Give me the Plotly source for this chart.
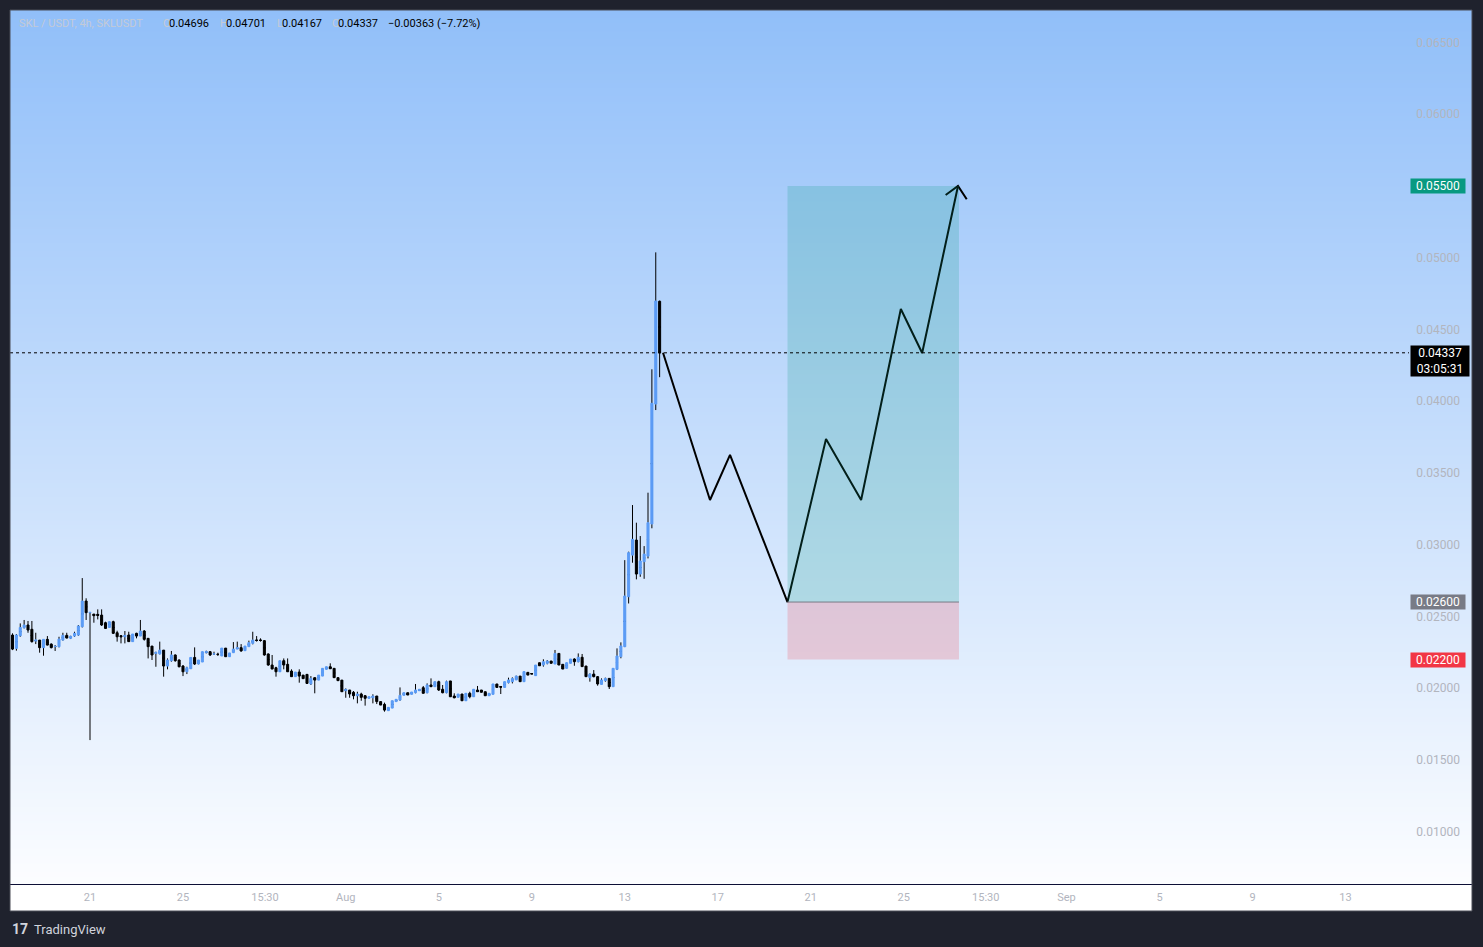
import pandas as pd
import plotly.graph_objects as go

# SKL / USDT 4h candles, first bar 2024-07-17 16:00
candle_start = "2024-07-17 16:00"

opens = [
    0.02370, 0.02277, 0.02365, 0.02421, 0.02440, 0.02410, 0.02328, 0.02335, 0.02282, 0.02340, 0.02307, 0.02289,
    0.02289, 0.02335, 0.02368, 0.02347, 0.02363, 0.02370, 0.02428, 0.02607, 0.02526, 0.02516, 0.02514, 0.02509,
    0.02456, 0.02423, 0.02463, 0.02386, 0.02365, 0.02358, 0.02370, 0.02324, 0.02382, 0.02363, 0.02398, 0.02347,
    0.02293, 0.02242, 0.02238, 0.02265, 0.02154, 0.02191, 0.02231, 0.02196, 0.02154, 0.02114, 0.02135, 0.02214,
    0.02168, 0.02182, 0.02247, 0.02254, 0.02238, 0.02235, 0.02224, 0.02279, 0.02219, 0.02247, 0.02272, 0.02282,
    0.02261, 0.02289, 0.02312, 0.02333, 0.02333, 0.02331, 0.02238, 0.02161, 0.02142, 0.02114, 0.02191, 0.02166,
    0.02119, 0.02080, 0.02112, 0.02091, 0.02096, 0.02029, 0.02073, 0.02056, 0.02084, 0.02131, 0.02149, 0.02138,
    0.02073, 0.02056, 0.01982, 0.01987, 0.01971, 0.01947, 0.01959, 0.01947, 0.01929, 0.01933, 0.01945, 0.01906,
    0.01887, 0.01843, 0.01861, 0.01906, 0.01917, 0.01950, 0.01968, 0.01957, 0.01968, 0.01982, 0.02003, 0.01968,
    0.02022, 0.02010, 0.02045, 0.01992, 0.01968, 0.02050, 0.01945, 0.01936, 0.01959, 0.01912, 0.01964, 0.01940,
    0.01987, 0.01987, 0.01975, 0.01947, 0.01957, 0.02029, 0.02010, 0.02005, 0.02038, 0.02045, 0.02057, 0.02084,
    0.02045, 0.02110, 0.02101, 0.02087, 0.02177, 0.02161, 0.02173, 0.02189, 0.02168, 0.02242, 0.02166, 0.02138,
    0.02173, 0.02203, 0.02184, 0.02215, 0.02154, 0.02073, 0.02098, 0.02080, 0.02026, 0.02052, 0.02068, 0.02010,
    0.02131, 0.02219, 0.02289, 0.02637, 0.02927, 0.03032, 0.02795, 0.02881, 0.02920, 0.03144, 0.03980, 0.04696,
]
highs = [
    0.02382, 0.02377, 0.02451, 0.02475, 0.02468, 0.02468, 0.02386, 0.02335, 0.02340, 0.02363, 0.02312, 0.02300,
    0.02358, 0.02386, 0.02386, 0.02365, 0.02393, 0.02440, 0.02767, 0.02626, 0.02528, 0.02516, 0.02549, 0.02549,
    0.02463, 0.02463, 0.02470, 0.02400, 0.02365, 0.02398, 0.02393, 0.02377, 0.02386, 0.02475, 0.02405, 0.02347,
    0.02293, 0.02254, 0.02324, 0.02265, 0.02207, 0.02259, 0.02235, 0.02200, 0.02161, 0.02149, 0.02214, 0.02284,
    0.02196, 0.02254, 0.02261, 0.02259, 0.02254, 0.02247, 0.02279, 0.02279, 0.02245, 0.02321, 0.02324, 0.02307,
    0.02293, 0.02331, 0.02393, 0.02363, 0.02347, 0.02335, 0.02242, 0.02231, 0.02149, 0.02191, 0.02207, 0.02207,
    0.02131, 0.02112, 0.02131, 0.02091, 0.02098, 0.02084, 0.02073, 0.02091, 0.02138, 0.02149, 0.02173, 0.02138,
    0.02073, 0.02056, 0.01998, 0.01987, 0.01980, 0.01975, 0.01968, 0.01952, 0.01940, 0.01957, 0.01945, 0.01906,
    0.01899, 0.01866, 0.01912, 0.01922, 0.02005, 0.01968, 0.01968, 0.01973, 0.02029, 0.01992, 0.02015, 0.02033,
    0.02068, 0.02045, 0.02052, 0.02022, 0.02052, 0.02050, 0.01964, 0.01959, 0.01959, 0.01964, 0.01975, 0.01992,
    0.02015, 0.01987, 0.01975, 0.01964, 0.02029, 0.02029, 0.02015, 0.02045, 0.02073, 0.02075, 0.02087, 0.02084,
    0.02115, 0.02110, 0.02105, 0.02161, 0.02177, 0.02201, 0.02196, 0.02189, 0.02266, 0.02242, 0.02166, 0.02177,
    0.02203, 0.02208, 0.02242, 0.02238, 0.02154, 0.02103, 0.02126, 0.02084, 0.02068, 0.02073, 0.02068, 0.02138,
    0.02277, 0.02319, 0.02892, 0.02951, 0.03276, 0.03153, 0.03060, 0.02990, 0.03362, 0.04222, 0.05037, 0.04701,
]
lows = [
    0.02265, 0.02261, 0.02358, 0.02416, 0.02386, 0.02317, 0.02307, 0.02247, 0.02226, 0.02298, 0.02277, 0.02259,
    0.02284, 0.02331, 0.02347, 0.02342, 0.02358, 0.02365, 0.02423, 0.02475, 0.01638, 0.02456, 0.02479, 0.02433,
    0.02412, 0.02423, 0.02377, 0.02324, 0.02312, 0.02312, 0.02324, 0.02324, 0.02347, 0.02363, 0.02331, 0.02207,
    0.02196, 0.02149, 0.02235, 0.02080, 0.02131, 0.02184, 0.02184, 0.02145, 0.02084, 0.02098, 0.02135, 0.02161,
    0.02166, 0.02182, 0.02242, 0.02224, 0.02231, 0.02224, 0.02224, 0.02219, 0.02219, 0.02247, 0.02272, 0.02254,
    0.02261, 0.02289, 0.02305, 0.02324, 0.02324, 0.02226, 0.02156, 0.02133, 0.02080, 0.02114, 0.02131, 0.02114,
    0.02080, 0.02080, 0.02038, 0.02066, 0.02029, 0.02022, 0.01964, 0.02056, 0.02084, 0.02131, 0.02135, 0.02073,
    0.02052, 0.01975, 0.01933, 0.01933, 0.01922, 0.01894, 0.01912, 0.01878, 0.01929, 0.01894, 0.01889, 0.01882,
    0.01836, 0.01843, 0.01861, 0.01906, 0.01912, 0.01950, 0.01952, 0.01957, 0.01964, 0.01982, 0.01964, 0.01964,
    0.02010, 0.02010, 0.01980, 0.01964, 0.01964, 0.01940, 0.01929, 0.01936, 0.01912, 0.01912, 0.01929, 0.01940,
    0.01975, 0.01971, 0.01947, 0.01947, 0.01957, 0.02005, 0.01959, 0.02005, 0.02033, 0.02033, 0.02057, 0.02045,
    0.02045, 0.02091, 0.02098, 0.02087, 0.02156, 0.02150, 0.02166, 0.02173, 0.02168, 0.02161, 0.02133, 0.02138,
    0.02173, 0.02156, 0.02180, 0.02150, 0.02080, 0.02045, 0.02075, 0.02017, 0.02026, 0.02045, 0.01994, 0.02010,
    0.02126, 0.02208, 0.02286, 0.02590, 0.02874, 0.02758, 0.02776, 0.02762, 0.02904, 0.03114, 0.03938, 0.04167,
]
closes = [
    0.02272, 0.02370, 0.02423, 0.02440, 0.02405, 0.02324, 0.02335, 0.02282, 0.02340, 0.02300, 0.02282, 0.02291,
    0.02342, 0.02368, 0.02349, 0.02361, 0.02382, 0.02433, 0.02607, 0.02526, 0.02528, 0.02505, 0.02507, 0.02440,
    0.02416, 0.02463, 0.02382, 0.02358, 0.02358, 0.02368, 0.02324, 0.02377, 0.02363, 0.02398, 0.02340, 0.02289,
    0.02231, 0.02249, 0.02265, 0.02154, 0.02196, 0.02231, 0.02191, 0.02149, 0.02114, 0.02142, 0.02214, 0.02168,
    0.02196, 0.02254, 0.02254, 0.02231, 0.02238, 0.02235, 0.02279, 0.02219, 0.02245, 0.02272, 0.02282, 0.02259,
    0.02293, 0.02317, 0.02335, 0.02333, 0.02333, 0.02231, 0.02161, 0.02133, 0.02114, 0.02191, 0.02161, 0.02114,
    0.02080, 0.02112, 0.02084, 0.02066, 0.02033, 0.02068, 0.02056, 0.02091, 0.02138, 0.02149, 0.02135, 0.02073,
    0.02052, 0.01975, 0.01991, 0.01959, 0.01947, 0.01959, 0.01936, 0.01929, 0.01940, 0.01945, 0.01906, 0.01882,
    0.01847, 0.01866, 0.01912, 0.01922, 0.01950, 0.01968, 0.01952, 0.01973, 0.01987, 0.01992, 0.01964, 0.02022,
    0.02010, 0.02045, 0.01987, 0.01968, 0.02045, 0.01940, 0.01933, 0.01959, 0.01912, 0.01964, 0.01940, 0.01992,
    0.01975, 0.01971, 0.01947, 0.01964, 0.02029, 0.02005, 0.02008, 0.02045, 0.02057, 0.02068, 0.02084, 0.02045,
    0.02115, 0.02091, 0.02100, 0.02161, 0.02156, 0.02184, 0.02189, 0.02173, 0.02242, 0.02161, 0.02133, 0.02177,
    0.02203, 0.02184, 0.02215, 0.02150, 0.02080, 0.02098, 0.02080, 0.02029, 0.02057, 0.02068, 0.02010, 0.02138,
    0.02224, 0.02294, 0.02642, 0.02944, 0.03037, 0.02795, 0.02886, 0.02934, 0.03153, 0.03985, 0.04698, 0.04337,
]

# projected path drawn on the chart
path_times = ["2024-08-14 15:30", "2024-08-16 16:00", "2024-08-17 12:40", "2024-08-20 00:00",
              "2024-08-21 15:45", "2024-08-23 04:00", "2024-08-24 21:00", "2024-08-25 19:00",
              "2024-08-27 08:00"]
path_prices = [0.04337, 0.03311, 0.03625, 0.02600, 0.03736, 0.03311, 0.04642, 0.04336, 0.05500]
head_times = ["2024-08-26 19:15", "2024-08-27 08:00", "2024-08-27 17:00"]
head_prices = [0.05437, 0.05500, 0.05407]

# long position tool
box_start, box_end = "2024-08-20 00:00", "2024-08-27 09:00"
entry, target, stop = 0.02600, 0.05500, 0.02200
last_close = 0.04337

tick_dates = ["2024-07-21", "2024-07-25", "2024-07-28 12:40", "2024-08-01", "2024-08-05", "2024-08-09",
              "2024-08-13", "2024-08-17", "2024-08-21", "2024-08-25", "2024-08-28 12:40", "2024-09-01",
              "2024-09-05", "2024-09-09", "2024-09-13"]
tick_labels = ["21", "25", "15:30", "Aug", "5", "9", "13", "17", "21", "25", "15:30", "Sep", "5", "9", "13"]

X_RANGE = ["2024-07-17 13:25", "2024-09-18 10:35"]
Y_RANGE = [0.00635, 0.06726]

UP = "#5B9CF6"
DOWN = "#000000"
FONT = "Roboto, Arial, sans-serif"


def px(x):
    return (x - 10) / 1462


def py(y):
    return (884 - y) / 874


times = pd.date_range(candle_start, periods=len(opens), freq="4h")
body_hi = [max(o, c) for o, c in zip(opens, closes)]
body_lo = [min(o, c) for o, c in zip(opens, closes)]
body_mid = [(o + c) / 2 for o, c in zip(opens, closes)]

fig = go.Figure()

# vertical gradient background (heatmap layer sits under the candles)
fig.add_trace(go.Heatmap(
    x=X_RANGE, y=Y_RANGE, z=[[0, 0], [1, 1]], zsmooth="best",
    colorscale=[[0, "#FCFDFF"], [1, "#91BFF9"]], showscale=False, hoverinfo="skip",
))

# wicks: flat body hidden behind the real body drawn next
fig.add_trace(go.Candlestick(
    x=times, open=body_mid, high=highs, low=lows, close=body_mid,
    increasing=dict(line=dict(color="#000000", width=1), fillcolor="#000000"),
    decreasing=dict(line=dict(color="#000000", width=1), fillcolor="#000000"),
    whiskerwidth=0, hoverinfo="skip", showlegend=False,
))
# bodies
fig.add_trace(go.Candlestick(
    x=times, open=opens, high=body_hi, low=body_lo, close=closes,
    increasing=dict(line=dict(color=UP, width=1), fillcolor=UP),
    decreasing=dict(line=dict(color=DOWN, width=1), fillcolor=DOWN),
    whiskerwidth=0, hoverinfo="skip", showlegend=False,
))

shapes = [
    # time axis band
    dict(type="rect", xref="paper", yref="paper", x0=0, x1=1, y0=py(911), y1=0,
         fillcolor="#FFFFFF", line=dict(width=0), layer="below"),
    # profit / loss zones
    dict(type="rect", xref="x", yref="y", x0=box_start, x1=box_end, y0=entry, y1=target,
         fillcolor="rgba(8,153,129,0.2)", line=dict(width=0), layer="above"),
    dict(type="rect", xref="x", yref="y", x0=box_start, x1=box_end, y0=stop, y1=entry,
         fillcolor="rgba(242,54,69,0.2)", line=dict(width=0), layer="above"),
    dict(type="line", xref="x", yref="y", x0=box_start, x1=box_end, y0=entry, y1=entry,
         line=dict(color="#787B86", width=1)),
    # last price line
    dict(type="line", xref="paper", yref="y", x0=0, x1=px(1409), y0=last_close, y1=last_close,
         line=dict(color="#000000", width=1, dash="dot")),
    # panel border
    dict(type="rect", xref="paper", yref="paper", x0=0, x1=1, y0=py(911), y1=1,
         line=dict(color="#4A4D57", width=1)),
]

fig.add_trace(go.Scatter(
    x=path_times, y=path_prices, mode="lines",
    line=dict(color="#000000", width=2), hoverinfo="skip", showlegend=False,
))
fig.add_trace(go.Scatter(
    x=head_times, y=head_prices, mode="lines",
    line=dict(color="#000000", width=2), hoverinfo="skip", showlegend=False,
))

annotations = []

# header line
header_parts = [
    (17, "SKL / USDT, 4h, SKLUSDT", "#C4CAD6"),
    (161, "O", "#C4CAD6"), (167, "0.04696", "#000000"),
    (218, "H", "#C4CAD6"), (224, "0.04701", "#000000"),
    (275, "L", "#C4CAD6"), (280, "0.04167", "#000000"),
    (330, "C", "#C4CAD6"), (336, "0.04337", "#000000"),
    (386, "−0.00363 (−7.72%)", "#000000"),
]
for x, text, color in header_parts:
    annotations.append(dict(
        xref="paper", yref="paper", x=px(x), y=py(24), xanchor="left", yanchor="middle",
        text=text, showarrow=False, font=dict(family=FONT, size=11, color=color),
    ))

# price axis labels
price_tags = [
    (186, "0.05500", "#089981"),
    (602, "0.02600", "#787B86"),
    (660, "0.02200", "#F23645"),
]
for y, text, bg in price_tags:
    annotations.append(dict(
        xref="paper", yref="paper", x=px(1410), y=py(y), xanchor="left", yanchor="middle",
        text=text, showarrow=False, bgcolor=bg, borderpad=0, width=54, height=14,
        font=dict(family=FONT, size=12, color="#FFFFFF"),
    ))
annotations.append(dict(
    xref="paper", yref="paper", x=px(1410), y=py(345), xanchor="left", yanchor="top",
    text="0.04337<br>03:05:31", showarrow=False, bgcolor="#000000", borderpad=0,
    width=58, height=30, font=dict(family=FONT, size=12, color="#FFFFFF"),
))

# TradingView mark
annotations.append(dict(
    xref="paper", yref="paper", x=px(10), y=py(929), xanchor="left", yanchor="middle",
    text="<b>17</b>", showarrow=False,
    font=dict(family=FONT, size=14, color="#D1D4DC"),
))
annotations.append(dict(
    xref="paper", yref="paper", x=px(32), y=py(929), xanchor="left", yanchor="middle",
    text="TradingView", showarrow=False,
    font=dict(family=FONT, size=13, color="#D1D4DC"),
))

fig.update_layout(
    width=1483, height=947,
    margin=dict(l=10, r=11, t=10, b=63),
    paper_bgcolor="#1F222D", plot_bgcolor="#FFFFFF",
    shapes=shapes, annotations=annotations,
    showlegend=False, hovermode=False,
    boxgap=0.3, boxgroupgap=0.25,
    font=dict(family=FONT),
    xaxis=dict(
        type="date", range=X_RANGE, rangeslider=dict(visible=False),
        tickvals=tick_dates, ticktext=tick_labels,
        tickfont=dict(size=11, color="#B2B5BE"), ticklabelstandoff=3,
        showgrid=True, gridcolor="rgba(255,255,255,0.18)", gridwidth=1,
        showline=True, linecolor="#0D1036", linewidth=1,
        zeroline=False, ticks="",
    ),
    yaxis=dict(
        range=Y_RANGE, side="right", ticklabelposition="inside", ticklabelstandoff=9,
        tick0=0, dtick=0.005, tickformat=".5f",
        tickfont=dict(size=12, color="#B2B5BE"),
        showgrid=True, gridcolor="rgba(255,255,255,0.18)", gridwidth=1,
        zeroline=False, showline=False, ticks="",
    ),
)

fig.write_html(
    "out.html",
    config={"displayModeBar": False},
    post_script="document.body.style.margin='0';document.body.style.background='#1F222D';",
)
